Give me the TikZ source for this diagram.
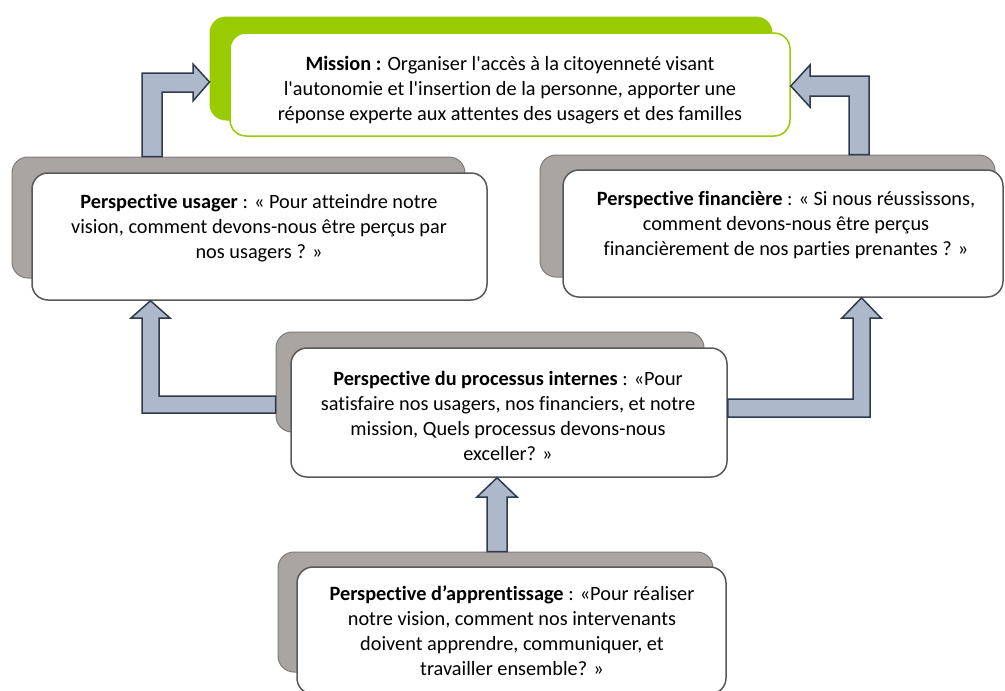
\documentclass[tikz,border=0pt]{standalone}
\usepackage{fontspec}
\setmainfont{Carlito}[Ligatures={TeX,NoCommon}]
\usetikzlibrary{positioning}
\definecolor{missiongreen}{RGB}{153,204,0}
\definecolor{backgrey}{RGB}{169,165,163}
\definecolor{backedge}{RGB}{125,123,122}
\definecolor{frontedge}{RGB}{89,89,89}
\definecolor{arrowfill}{RGB}{173,185,202}
\definecolor{arrowedge}{RGB}{46,58,77}
\begin{document}
\begin{tikzpicture}
[x=1pt,y=-1pt,%
  back/.style={shape=rectangle,inner sep=0pt,rounded corners=16pt,draw=backedge,fill=backgrey,line width=1pt},
  front/.style={shape=rectangle,inner sep=0pt,rounded corners=16pt,draw=frontedge,fill=white,line width=1.5pt},
  txt/.style={align=center,inner sep=0pt,font=\fontsize{20.3}{25}\selectfont},
  bigarrow/.style={fill=arrowfill,draw=arrowedge,line width=1.5pt,line join=miter}]
\useasboundingbox (0,0) rectangle (1005,691);

\node[back,draw=missiongreen,fill=missiongreen,minimum width=562pt,minimum height=103pt] (missionback) at (491,68.5) {};
\node[front,draw=missiongreen,minimum width=560pt,minimum height=103pt] (mission) at (510,84.5) {};
\node[txt] (missiontxt) at (510,90) {\textbf{Mission :} Organiser l\textquotesingle accès à la citoyenneté visant\\
  l\textquotesingle autonomie et l\textquotesingle insertion de la personne, apporter une\\
  réponse experte aux attentes des usagers et des familles};

\node[back,minimum width=453pt,minimum height=121pt] (usagerback) at (238.5,217.5) {};
\node[front,minimum width=455pt,minimum height=127pt] (usager) at (259.5,236.5) {};
\node[txt] (usagertxt) at (259,228) {\textbf{Perspective usager} : « Pour atteindre notre\\
  vision, comment devons-nous être perçus par\\
  nos usagers ? »};

\node[back,minimum width=455pt,minimum height=122pt] (financiereback) at (767.5,216) {};
\node[front,minimum width=440pt,minimum height=127pt] (financiere) at (783,233.5) {};
\node[txt] (financieretxt) at (786,225) {\textbf{Perspective financière} : « Si nous réussissons,\\
  comment devons-nous être perçus\\
  financièrement de nos parties prenantes ? »};

\node[back,minimum width=428pt,minimum height=100pt] (processusback) at (490,382) {};
\node[front,minimum width=436pt,minimum height=129pt] (processus) at (509,412.5) {};
\node[txt] (processustxt) at (508,416) {\textbf{Perspective du processus internes} : «Pour\\
  satisfaire nos usagers, nos financiers, et notre\\
  mission, Quels processus devons-nous\\
  exceller? »};

\node[back,minimum width=435pt,minimum height=120pt] (apprentback) at (495.5,612) {};
\node[front,minimum width=429pt,minimum height=127pt] (apprent) at (511.5,630.5) {};
\node[txt] (apprenttxt) at (512,631) {\textbf{Perspective d’apprentissage} : «Pour réaliser\\
  notre vision, comment nos intervenants\\
  doivent apprendre, communiquer, et\\
  travailler ensemble? »};

\draw[bigarrow] (142,0 |- usagerback.north) -- (142,73) -- (193,73) -- (193,64) -- (missionback.west |- 0,82)
  -- (193,101) -- (193,92) -- (162,92) -- (162,0 |- usagerback.north) -- cycle;
\draw[bigarrow] (849,0 |- financiereback.north) -- (849,96) -- (810,96) -- (810,107) -- (mission.east |- 0,86)
  -- (810,65) -- (810,76) -- (869,76) -- (869,0 |- financiereback.north) -- cycle;
\draw[bigarrow] (processusback.west |- 0,413) -- (142,413) -- (142,318) -- (131,318) -- (150.5,0 |- usager.south)
  -- (170,318) -- (159,318) -- (159,396) -- (processusback.west |- 0,396) -- cycle;
\draw[bigarrow] (processus.east |- 0,399) -- (853,399) -- (853,318) -- (842,318) -- (861.5,0 |- financiere.south)
  -- (881,318) -- (870,318) -- (870,417) -- (processus.east |- 0,417) -- cycle;
\draw[bigarrow] (487,0 |- apprentback.north) -- (487,497) -- (477,497) -- (497,0 |- processus.south)
  -- (517,497) -- (507,497) -- (507,0 |- apprentback.north) -- cycle;
\end{tikzpicture}
\end{document}
